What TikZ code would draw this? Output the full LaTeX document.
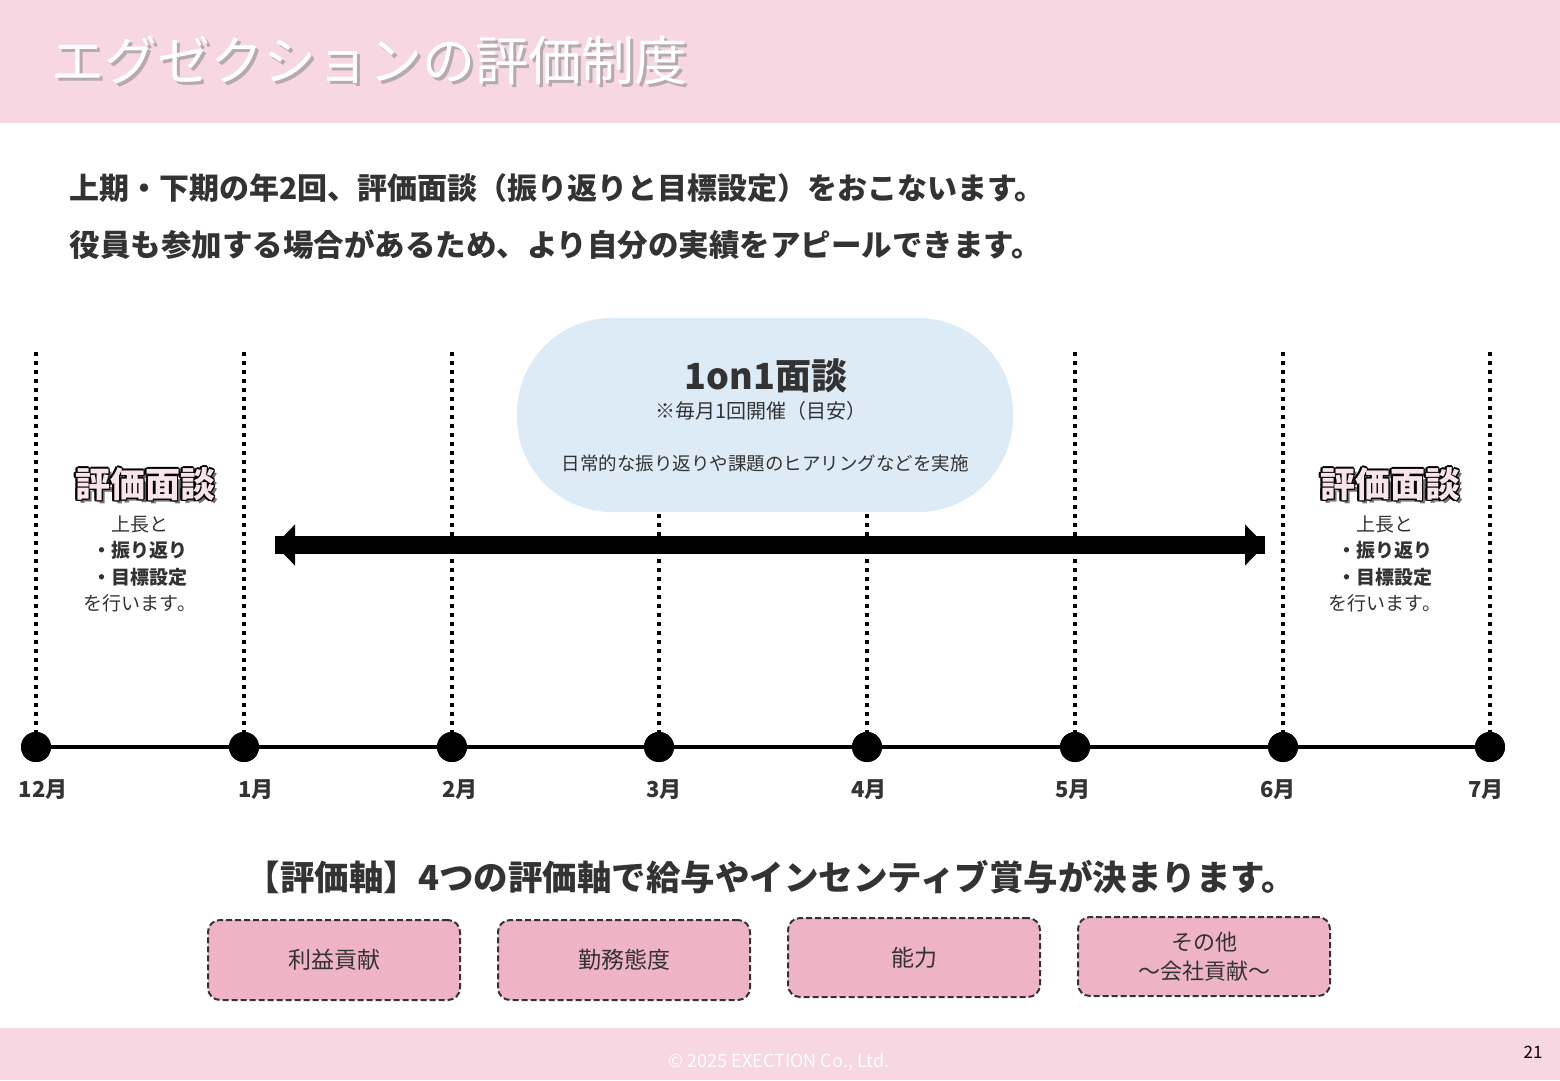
\documentclass[tikz,border=0pt]{standalone}
\usepackage{fontspec}
\setmainfont{Noto Sans CJK JP}
\usetikzlibrary{arrows.meta}
\definecolor{bandpink}{HTML}{F7D7E1}
\definecolor{boxpink}{HTML}{EEB4C6}
\definecolor{bubblec}{HTML}{DDEBF7}
\definecolor{txt}{HTML}{333333}
\definecolor{lbl}{HTML}{F9E4EC}
\newcommand{\fs}[1]{\fontsize{#1}{#1}\selectfont}
\tikzset{
  vdot/.style={line width=4pt, dash pattern=on 4pt off 5pt, black},
  dotnode/.style={circle, fill=black, minimum size=30pt, inner sep=0pt},
  month/.style={font=\fs{22}\bfseries, text=txt, anchor=center},
  axbox/.style={draw=txt, line width=2pt, dash pattern=on 6pt off 3pt, fill=boxpink, rounded corners=12pt,
    minimum width=252pt, minimum height=80pt, align=center, font=\fs{23}, text=txt},
  subtxt/.style={font=\fs{19}, text=txt, anchor=center},
}
\begin{document}
\begin{tikzpicture}[x=1pt,y=-1pt]
\useasboundingbox (0,0) rectangle (1560,1080);
\fill[white] (0,0) rectangle (1560,1080);
% header and footer bands
\fill[bandpink] (0,0) rectangle (1560,123);
\fill[bandpink] (0,1028) rectangle (1560,1080);
% title with shadow
\node[anchor=west, font=\fs{53}, text=black!45, opacity=0.6] at (51,63) {エグゼクションの評価制度};
\node[anchor=west, font=\fs{53}, text=white] (title) at (48,60) {エグゼクションの評価制度};
% intro text
\node[anchor=west, font=\fs{30}\bfseries, text=txt] (l1) at (66,188) {上期・下期の年2回、評価面談（振り返りと目標設定）をおこないます。};
\node[anchor=west, font=\fs{30.5}\bfseries, text=txt] (l2) at (66,245) {役員も参加する場合があるため、より自分の実績をアピールできます。};
% timeline dots
\foreach \i/\x in {0/36,1/244,2/452,3/659,4/867,5/1075,6/1283,7/1490}{
  \node[dotnode] (m\i) at (\x,747) {};
  \coordinate (t\i) at (\x,352);
  \draw[vdot] (t\i) -- (m\i.center);
}
\draw[line width=4.5pt] (m0.center) -- (m7.center);
\foreach \i in {0,...,7}{ \fill (m\i) circle (15pt); }
% month labels
\foreach \i/\x/\t in {0/43/12月,1/256/1月,2/460/2月,3/664/3月,4/869/4月,5/1073/5月,6/1278/6月,7/1486/7月}{
  \node[month] (ml\i) at (\x,790) {\t};
}
% bubble
\node[fill=bubblec, rounded corners=95pt, minimum width=496pt, minimum height=194pt, inner sep=0pt] (bub) at (765,415) {};
\node[font=\fs{36}\bfseries, text=txt] (b1) at (766,376) {1on1面談};
\node[font=\fs{20}, text=txt] (b2) at (761,411) {※毎月1回開催（目安）};
\node[font=\fs{18.5}, text=txt] (b3) at (765,463) {日常的な振り返りや課題のヒアリングなどを実施};
% double arrow
\coordinate (al) at (275,545);
\coordinate (ar) at (1265,545);
\draw[line width=18pt, -{Triangle[width=40pt,length=20pt]}] (al) -- (ar);
\draw[line width=18pt, -{Triangle[width=40pt,length=20pt]}] (ar) -- (al);
% 評価面談 labels
\foreach \n/\x in {hl/145,hr/1390}{
  \node[font=\fs{35}\bfseries, text=black!55] at (\x+3,487) {評価面談};
  \foreach \dx/\dy in {-1.6/0,1.6/0,0/-1.6,0/1.6,-1.2/-1.2,1.2/1.2,-1.2/1.2,1.2/-1.2}{
    \node[font=\fs{35}\bfseries, text=black] at (\x+\dx,484+\dy) {評価面談};
  }
  \node[font=\fs{35}\bfseries, text=lbl] (\n) at (\x,484) {評価面談};
}
\foreach \n/\x in {sl/140,sr/1385}{
  \node[subtxt] (\n1) at (\x,524) {上長と};
  \node[subtxt, font=\fs{19}\bfseries] (\n2) at (\x,550) {・振り返り};
  \node[subtxt, font=\fs{19}\bfseries] (\n3) at (\x,577) {・目標設定};
  \node[subtxt] (\n4) at (\x,603) {を行います。};
}
% axis heading
\node[font=\fs{34.5}\bfseries, text=txt] (ax) at (771,877) {【評価軸】4つの評価軸で給与やインセンティブ賞与が決まります。};
% boxes
\node[axbox] (x1) at (334,960) {利益貢献};
\node[axbox] (x2) at (624,960) {勤務態度};
\node[axbox, minimum height=79pt] (x3) at (914,957.5) {能力};
\node[axbox, minimum height=79pt, font=\fontsize{22}{29}\selectfont] (x4) at (1204,956.5) {その他\\～会社貢献～};
% footer
\node[font=\fs{18}, text=white] (copy) at (779,1062) {© 2025 EXECTION Co., Ltd.};
\node[font=\fs{17}, text=black] (pg) at (1533,1052) {21};
\end{tikzpicture}
\end{document}
